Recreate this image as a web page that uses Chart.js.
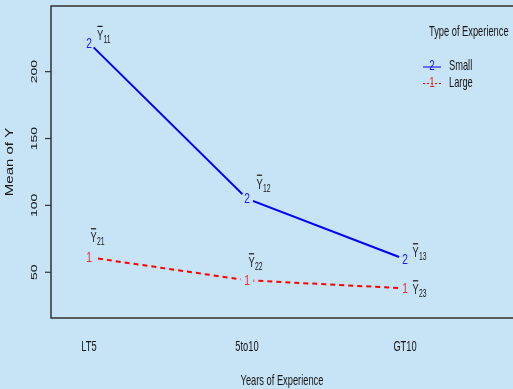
<!DOCTYPE html>
<html>
<head>
<meta charset="utf-8">
<script src="https://cdn.jsdelivr.net/npm/chart.js@4.4.1/dist/chart.umd.min.js"></script>
<style>
  html, body { margin: 0; padding: 0; background: #c7e3f6; }
  canvas { display: block; }
</style>
</head>
<body>
<canvas id="myChart" width="513" height="389"></canvas>
<script>
const categories = ["LT5", "5to10", "GT10"];
const smallMeans = [221.5, 105, 59.7];
const largeMeans = [61.2, 44, 38];
const smallSubs = ["11", "12", "13"];
const largeSubs = ["21", "22", "23"];
const yTicks = [50, 100, 150, 200];

const BG = "#c7e3f6";
const INK = "#151515";
const FONT = '"Liberation Sans", Arial, sans-serif';

// the picture is squeezed horizontally, so text gets an x scale
function hText(ctx, str, x, y, size, align, color, sx) {
  ctx.save();
  ctx.translate(x, y);
  ctx.scale(sx || 0.62, 1);
  ctx.font = size + "px " + FONT;
  ctx.textAlign = align;
  ctx.textBaseline = "middle";
  ctx.fillStyle = color;
  ctx.fillText(str, 0, 0);
  ctx.restore();
}

function vText(ctx, str, x, y, size, color) {
  ctx.save();
  ctx.translate(x, y);
  ctx.scale(0.7, 1);
  ctx.rotate(-Math.PI / 2);
  ctx.font = size + "px " + FONT;
  ctx.textAlign = "center";
  ctx.textBaseline = "middle";
  ctx.fillStyle = color;
  ctx.fillText(str, 0, 0);
  ctx.restore();
}

// Y with overbar and subscript
function yBar(ctx, x, y, sub) {
  ctx.save();
  ctx.font = "15px " + FONT;
  const w = ctx.measureText("Y").width * 0.62;
  ctx.restore();
  hText(ctx, "Y", x, y + 1, 15, "center", INK);
  ctx.save();
  ctx.strokeStyle = INK;
  ctx.lineWidth = 1.2;
  ctx.beginPath();
  ctx.moveTo(x - w / 2 + 0.5, y - 8.5);
  ctx.lineTo(x + w / 2 - 0.5, y - 8.5);
  ctx.stroke();
  ctx.restore();
  hText(ctx, sub, x + w / 2 + 0.3, y + 5, 11, "left", INK);
}

const decor = {
  id: "decor",
  beforeDraw(chart) {
    const ctx = chart.ctx;
    ctx.save();
    ctx.fillStyle = BG;
    ctx.fillRect(0, 0, chart.width, chart.height);
    ctx.restore();
  },
  afterDatasetsDraw(chart) {
    const ctx = chart.ctx;
    const a = chart.chartArea;
    const xs = chart.scales.x;
    const ys = chart.scales.y;

    // frame (open on the right)
    ctx.save();
    ctx.strokeStyle = "#333";
    ctx.lineWidth = 1.5;
    ctx.beginPath();
    ctx.moveTo(chart.width + 2, a.top);
    ctx.lineTo(a.left, a.top);
    ctx.lineTo(a.left, a.bottom);
    ctx.lineTo(chart.width + 2, a.bottom);
    ctx.stroke();

    // y ticks
    ctx.lineWidth = 1.2;
    yTicks.forEach(v => {
      const py = ys.getPixelForValue(v);
      ctx.beginPath();
      ctx.moveTo(a.left - 6, py);
      ctx.lineTo(a.left, py);
      ctx.stroke();
      vText(ctx, String(v), 34, py, 14, INK);
    });
    ctx.restore();

    // x labels and titles
    categories.forEach((c, i) => {
      hText(ctx, c, xs.getPixelForValue(i), 347, 15, "center", INK);
    });
    hText(ctx, "Years of Experience", (a.left + a.right) / 2, 381, 15, "center", INK);
    vText(ctx, "Mean of Y", 10, (a.top + a.bottom) / 2, 15, INK);

    // point glyphs with gaps in the lines
    const groups = [
      { vals: smallMeans, glyph: "2", color: "#1a1aff", subs: smallSubs,
        offs: [[11, -8], [12.5, -15], [10.5, -7]] },
      { vals: largeMeans, glyph: "1", color: "#ee2a2a", subs: largeSubs,
        offs: [[4.5, -20], [4.5, -18], [10.5, 1]] }
    ];
    groups.forEach(g => {
      g.vals.forEach((v, i) => {
        const px = xs.getPixelForValue(i);
        const py = ys.getPixelForValue(v);
        ctx.save();
        ctx.fillStyle = BG;
        ctx.beginPath();
        ctx.arc(px, py, 6.5, 0, Math.PI * 2);
        ctx.fill();
        ctx.restore();
        hText(ctx, g.glyph, px, py + 0.5, 15, "center", g.color, 0.68);
        yBar(ctx, px + g.offs[i][0], py + g.offs[i][1], g.subs[i]);
      });
    });

    // legend
    hText(ctx, "Type of Experience", 429, 32, 15, "left", INK);
    ctx.save();
    ctx.lineWidth = 1;
    ctx.strokeStyle = "#0000ff";
    ctx.beginPath();
    ctx.moveTo(423, 67);
    ctx.lineTo(441, 67);
    ctx.stroke();
    ctx.strokeStyle = "#ff0000";
    ctx.setLineDash([2, 2]);
    ctx.beginPath();
    ctx.moveTo(423, 83.5);
    ctx.lineTo(441, 83.5);
    ctx.stroke();
    ctx.restore();
    hText(ctx, "2", 432, 66, 14, "center", "#1a1aff", 0.7);
    hText(ctx, "Small", 449, 66, 15, "left", INK);
    hText(ctx, "1", 432, 83, 14, "center", "#ee2a2a", 0.7);
    hText(ctx, "Large", 449, 83, 15, "left", INK);
  }
};

new Chart("myChart", {
  type: "line",
  data: {
    datasets: [
      {
        label: "Small",
        data: smallMeans.map((v, i) => ({ x: i, y: v })),
        borderColor: "#0000ff",
        borderWidth: 2,
        pointRadius: 0,
        tension: 0,
      },
      {
        label: "Large",
        data: largeMeans.map((v, i) => ({ x: i, y: v })),
        borderColor: "#ff0000",
        borderWidth: 2,
        borderDash: [5, 4],
        pointRadius: 0,
        tension: 0,
      },
    ],
  },
  options: {
    responsive: false,
    animation: false,
    layout: {
      padding: { left: 51, top: 6, right: 0, bottom: 71 },
    },
    plugins: {
      legend: { display: false },
      tooltip: { enabled: false },
    },
    scales: {
      x: { type: "linear", min: -0.2405, max: 2.6835, display: false },
      y: { min: 15.8, max: 249.1, display: false },
    },
  },
  plugins: [decor],
});
</script>
</body>
</html>
